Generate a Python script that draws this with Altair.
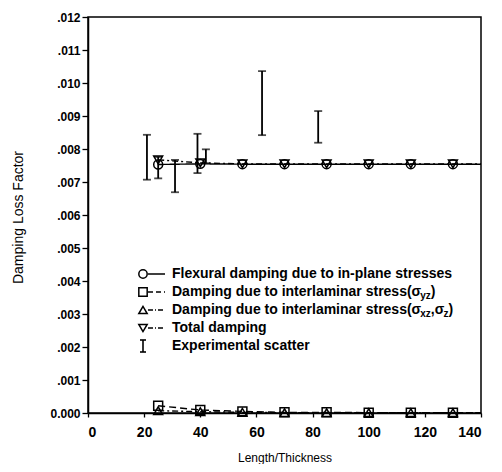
import altair as alt
import pandas as pd

# ---------------- data ----------------
x_model = [25, 40, 55, 70, 85, 100, 115, 130, 140]
flexural = [0.00753, 0.00755, 0.00754, 0.00754, 0.00754, 0.00754, 0.00754, 0.00754, 0.00754]
sigma_yz = [0.00022, 0.00009, 0.00005, 0.00002, 0.00002, 0.00001, 0.00001, 0.00001, 0.00001]
sigma_xz_z = [0.00007, 0.00004, 0.00002, 0.00001, 0.00001, 0.00001, 0.00001, 0.00001, 0.00001]
total = [0.00767, 0.00758, 0.00755, 0.00755, 0.00755, 0.00755, 0.00755, 0.00755, 0.00755]
series_names = ["Flexural", "SigmaYZ", "SigmaXZZ", "Total"]
marker_max_x = 130

exp_x = [21, 25, 31, 39, 42, 62, 82]
exp_low = [0.00707, 0.00711, 0.00669, 0.00727, 0.00757, 0.00842, 0.00819]
exp_high = [0.00843, 0.00776, 0.00767, 0.00846, 0.00799, 0.01036, 0.00915]

x_ticks = [0, 20, 40, 60, 80, 100, 120, 140]
y_ticks = [round(i * 0.001, 3) for i in range(13)]

legend_labels = [
    "Flexural damping due to in-plane stresses",
    "Damping due to interlaminar stress(σ",
    "Damping due to interlaminar stress(σ",
    "Total damping",
    "Experimental scatter",
]

# ---------------- tables ----------------
rows = []
for name, vals in zip(series_names, [flexural, sigma_yz, sigma_xz_z, total]):
    for xv, yv in zip(x_model, vals):
        rows.append({"series": name, "x": xv, "y": yv})
model_df = pd.DataFrame(rows)
exp_df = pd.DataFrame({"x": exp_x, "lo": exp_low, "hi": exp_high})
dummy = pd.DataFrame({"d": [0]})

FONT = "Liberation Sans"
shape_scale = alt.Scale(domain=series_names,
                        range=["circle", "square", "triangle-up", "triangle-down"])
dash_scale = alt.Scale(domain=series_names,
                       range=[[1, 0], [7, 4], [6, 3, 2, 3], [6, 3, 2, 3]])

x_axis = alt.Axis(values=x_ticks, title="Length/Thickness", format="d",
                  tickSize=4, labelPadding=8, titleX=196.5, titleY=44,
                  titleBaseline="middle", titleAlign="center", titleFontSize=12)
y_axis = alt.Axis(values=y_ticks, title="Damping Loss Factor",
                  labelExpr="datum.value == 0 ? '0.000' : replace(format(datum.value, '.3f'), '0.', '.')",
                  tickSize=6, labelPadding=2, titleX=-70, titleY=200,
                  titleBaseline="middle", titleAlign="center", titleFontSize=14)


def X(field):
    return alt.X(f"{field}:Q", scale=alt.Scale(domain=[0, 140], nice=False, zero=False),
                 axis=x_axis)


def Y(field):
    return alt.Y(f"{field}:Q", scale=alt.Scale(domain=[0, 0.012], nice=False),
                 axis=y_axis)


lines = alt.Chart(model_df).mark_line(color="black", strokeWidth=1.4).encode(
    x=X("x"), y=Y("y"), detail="series:N",
    strokeDash=alt.StrokeDash("series:N", scale=dash_scale, legend=None),
)
points = alt.Chart(model_df).transform_filter(
    alt.datum.x <= marker_max_x
).mark_point(filled=False, color="black", strokeWidth=1.5, size=80, opacity=1).encode(
    x=X("x"), y=Y("y"),
    shape=alt.Shape("series:N", scale=shape_scale, legend=None),
)
err_rule = alt.Chart(exp_df).mark_rule(color="black", strokeWidth=1.8).encode(
    x=X("x"), y=Y("lo"), y2="hi:Q")
err_lo = alt.Chart(exp_df).mark_tick(color="black", orient="horizontal", size=8,
                                     thickness=1.8).encode(x=X("x"), y=Y("lo"))
err_hi = alt.Chart(exp_df).mark_tick(color="black", orient="horizontal", size=8,
                                     thickness=1.8).encode(x=X("x"), y=Y("hi"))

# ---------------- manual legend ----------------
# Arial/Liberation Sans Bold advance widths (per 1000 em)
W = {" ": 278, "(": 333, ")": 333, ",": 278, "D": 722, "a": 556, "d": 611, "e": 556,
     "g": 611, "i": 278, "l": 278, "m": 889, "n": 611, "o": 611, "p": 611, "r": 389,
     "s": 556, "t": 333, "u": 611, "x": 556, "y": 556, "z": 500, "σ": 620}


def tw(s, size):
    return sum(W.get(c, 556) for c in s) * size / 1000.0


row_y = [257, 275, 293, 311, 329]
sym_x = 55
line_x0, line_x1 = 60, 77
text_x = 84
fs, sfs = 14, 10
legend_layers = []
leg_shapes = ["circle", "square", "triangle-up", "triangle-down"]
leg_dash = [[1, 0], [5, 3], [5, 2, 1, 2], [5, 2, 1, 2]]


def txt(s, x, y, size):
    return alt.Chart(dummy).mark_text(text=s, align="left", baseline="middle",
                                      font=FONT, fontSize=size, fontWeight="bold",
                                      color="black").encode(x=alt.value(x), y=alt.value(y))


for i in range(4):
    yv = row_y[i]
    legend_layers.append(alt.Chart(dummy).mark_rule(color="black", strokeWidth=1.4,
                                                    strokeDash=leg_dash[i]).encode(
        x=alt.value(line_x0), x2=alt.value(line_x1), y=alt.value(yv)))
    legend_layers.append(alt.Chart(dummy).mark_point(shape=leg_shapes[i], filled=False,
                                                     color="black", size=70, strokeWidth=1.5,
                                                     opacity=1).encode(
        x=alt.value(sym_x), y=alt.value(yv)))
    legend_layers.append(txt(legend_labels[i], text_x, yv, fs))

# subscripts for rows 2 and 3
x2 = text_x + tw(legend_labels[1], fs)
legend_layers.append(txt("yz", x2, row_y[1] + 4, sfs))
legend_layers.append(txt(")", x2 + tw("yz", sfs), row_y[1], fs))
x3 = text_x + tw(legend_labels[2], fs)
legend_layers.append(txt("xz", x3, row_y[2] + 4, sfs))
x3b = x3 + tw("xz", sfs)
legend_layers.append(txt(",σ", x3b, row_y[2], fs))
x3c = x3b + tw(",σ", fs)
legend_layers.append(txt("z", x3c, row_y[2] + 4, sfs))
legend_layers.append(txt(")", x3c + tw("z", sfs), row_y[2], fs))

# experimental scatter symbol
ey = row_y[4]
legend_layers.append(alt.Chart(dummy).mark_rule(color="black", strokeWidth=1.6).encode(
    x=alt.value(sym_x), y=alt.value(ey - 6), y2=alt.value(ey + 6)))
legend_layers.append(alt.Chart(dummy).mark_rule(color="black", strokeWidth=1.6).encode(
    x=alt.value(sym_x - 3), x2=alt.value(sym_x + 3), y=alt.value(ey - 6)))
legend_layers.append(alt.Chart(dummy).mark_rule(color="black", strokeWidth=1.6).encode(
    x=alt.value(sym_x - 3), x2=alt.value(sym_x + 3), y=alt.value(ey + 6)))
legend_layers.append(txt(legend_labels[4], text_x, ey, fs))

chart = alt.layer(lines, points, err_rule, err_lo, err_hi, *legend_layers).properties(
    width=393, height=396,
    autosize=alt.AutoSizeParams(type="none"),
    padding={"left": 80, "top": 9, "right": 10, "bottom": 51},
    background="white",
).configure_view(
    stroke="black", strokeWidth=1.5
).configure_axis(
    grid=False, domainColor="black", domainWidth=1.5, tickColor="black", tickWidth=1.3,
    labelColor="black", titleColor="black", labelFont=FONT, titleFont=FONT,
    labelFontWeight="bold", titleFontWeight="normal",
).configure_axisX(labelFontSize=14).configure_axisY(labelFontSize=12)

chart.save("out.html", embed_options={"renderer": "svg", "actions": False})
